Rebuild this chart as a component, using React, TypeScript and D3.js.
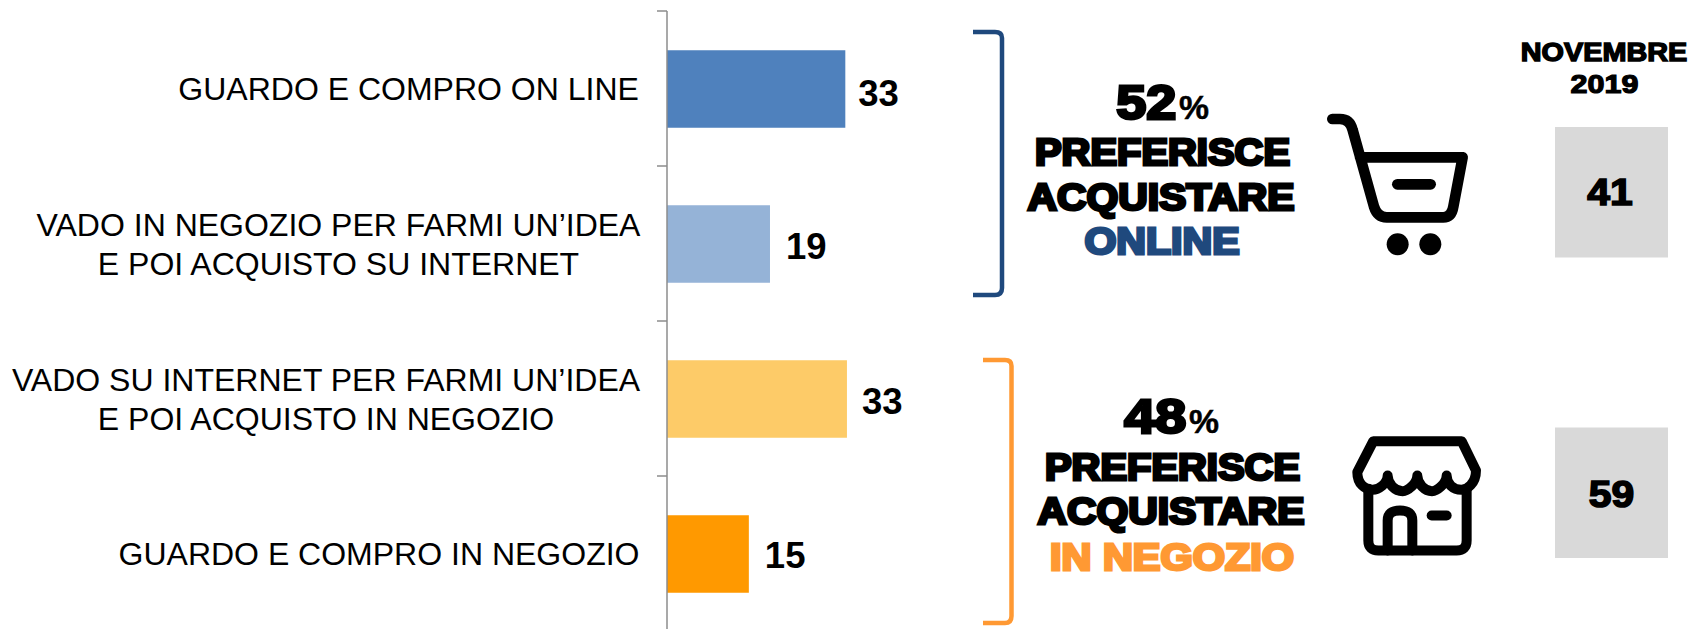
import React from "react";
import * as d3 from "d3";

const categories = ["GUARDO E COMPRO ON LINE", "VADO IN NEGOZIO PER FARMI UN’IDEA|E POI ACQUISTO SU INTERNET", "VADO SU INTERNET PER FARMI UN’IDEA|E POI ACQUISTO IN NEGOZIO", "GUARDO E COMPRO IN NEGOZIO"];
const values = [32.9, 19.0, 33.2, 15.1];
const barColors = ["#4f81bd", "#95b3d7", "#fdcb68", "#ff9900"];
const labelCenters = [408.6, 338.5, 326, 379];
const valueDx = [13, 16, 15, 16];
const valueDy = [17, 15, 15, 14];
const summaryPct = ["52", "48"];
const summaryWhere = ["ONLINE", "IN NEGOZIO"];
const summaryColors = ["#1f497d", "#ff9933"];
const novembre = [41, 59];

const FONT = "'Liberation Sans', Arial, sans-serif";

function Heavy({ x, y, size, w, fill = "#000", sw = 2.9, children }: any) {
  return <text x={x} y={y} fontFamily={FONT} fontWeight={700} fontSize={size} fill={fill} stroke={fill} strokeWidth={sw} textAnchor="middle" textLength={w - sw} lengthAdjust="spacingAndGlyphs">{children}</text>;
}

export default function App() {
  const y = d3.scaleBand<number>().domain(d3.range(4)).range([11.5, 631.5]).paddingInner(0.5).paddingOuter(0.25);
  const x = d3.scaleLinear().domain([0, 10]).range([667, 721.2]);
  const ticks = [11, 166, 321, 476, 631];
  const fmt = d3.format(".0f");
  const whereW = [158, 247];
  const rows = [
    { cx: 1162, pctL: 1115, pctW: 63, base: [118.5, 165, 209.5, 253.5] },
    { cx: 1172, pctL: 1123, pctW: 65, base: [433, 480, 524, 569.5] },
  ];
  return (
    <svg width={1693} height={629} style={{ position: "absolute", left: 0, top: 0 }}>
      <rect width={1693} height={629} fill="#fff" />
      {values.map((v, i) => (
        <rect key={i} x={x(0)} y={y(i)} width={x(v) - x(0)} height={y.bandwidth()} fill={barColors[i]} />
      ))}
      <line x1={667} x2={667} y1={11} y2={631} stroke="#8c8c8c" strokeWidth={1.5} />
      {ticks.map((t) => <line key={t} x1={657} x2={667} y1={t} y2={t} stroke="#8c8c8c" strokeWidth={1.5} />)}
      {categories.map((c, i) => {
        const lines = c.split("|");
        const cy = y(i)! + y.bandwidth() / 2;
        return lines.map((l, j) => (
          <text key={l} x={labelCenters[i]} y={cy + 11 + (lines.length === 2 ? (j === 0 ? -19 : 19.5) : 0)} fontFamily={FONT} fontSize={32} fill="#000" textAnchor="middle">{l}</text>
        ));
      })}
      {values.map((v, i) => (
        <text key={i} x={x(v) + valueDx[i]} y={y(i)! + y.bandwidth() / 2 + valueDy[i] - 0.5} fontFamily={FONT} fontWeight={700} fontSize={36.5} fill="#000">{fmt(v)}</text>
      ))}
      <path d="M973 32H995Q1002 32 1002 38V288Q1002 295 995 295H973" fill="none" stroke="#1f497d" strokeWidth={4.5} />
      <path d="M983 360H1005Q1011.5 360 1011.5 366V616Q1011.5 623 1005 623H983" fill="none" stroke="#ff9933" strokeWidth={4.5} />

      {rows.map((r, k) => (
        <g key={k}>
          <text x={r.pctL + 1.2} y={r.base[0]} fontFamily={FONT} fontWeight={700} fontSize={49} stroke="#000" strokeWidth={2.9} textLength={r.pctW - 2.9} lengthAdjust="spacingAndGlyphs">{summaryPct[k]}</text>
          <text x={r.pctL + r.pctW + 1} y={r.base[0]} fontFamily={FONT} fontWeight={700} fontSize={34} stroke="#000" strokeWidth={0.5} textLength={30} lengthAdjust="spacingAndGlyphs">%</text>
          <Heavy x={r.cx + 0.5} y={r.base[1]} size={36.5} w={258}>PREFERISCE</Heavy>
          <Heavy x={r.cx - 1} y={r.base[2]} size={36.5} w={270}>ACQUISTARE</Heavy>
          <Heavy x={r.cx} y={r.base[3]} size={36.5} w={whereW[k]} fill={summaryColors[k]}>{summaryWhere[k]}</Heavy>
        </g>
      ))}

      <g transform="translate(1290,50) scale(0.3333)" fill="none" stroke="#000" strokeWidth={32} strokeLinecap="round" strokeLinejoin="round">
        <path d="M127 207H150Q180 207 188 240L252 470Q262 502 290 502H460Q485 502 490 470L518 322H210" />
        <path d="M322 403H422" />
        <circle cx={323} cy={583} r={33} fill="#000" stroke="none" />
        <circle cx={421} cy={583} r={33} fill="#000" stroke="none" />
      </g>
      <g transform="translate(1320,420.5) scale(0.3333)" fill="none" stroke="#000" strokeWidth={30} strokeLinecap="round" strokeLinejoin="round">
        <path d="M160 62H425L468 150C468 190 440 208 424 208C400 208 380 190 380 165C380 190 350 212 336 212C315 212 292 190 292 165C292 190 262 212 248 212C225 212 203 190 203 165C203 190 175 208 158 208C135 208 112 190 112 155Z" />
        <path d="M145 205V360Q145 390 175 390H410Q440 390 440 360V205" />
        <path d="M203 390V300Q203 270 240 270Q277 270 277 300V390" />
        <path d="M335 285H380" />
      </g>

      <Heavy x={1604} y={61} size={26} w={168} sw={1.4}>NOVEMBRE</Heavy>
      <Heavy x={1604.5} y={92.5} size={26} w={69} sw={1.2}>2019</Heavy>
      {novembre.map((n, i) => {
        const top = i === 0 ? 127 : 427.5;
        return (
          <g key={i}>
            <rect x={1555} y={top} width={113} height={130.5} fill="#d9d9d9" />
            <Heavy x={i === 0 ? 1610 : 1611.5} y={i === 0 ? 204.5 : 506.5} size={37} w={47} sw={1.6}>{n}</Heavy>
          </g>
        );
      })}
    </svg>
  );
}
